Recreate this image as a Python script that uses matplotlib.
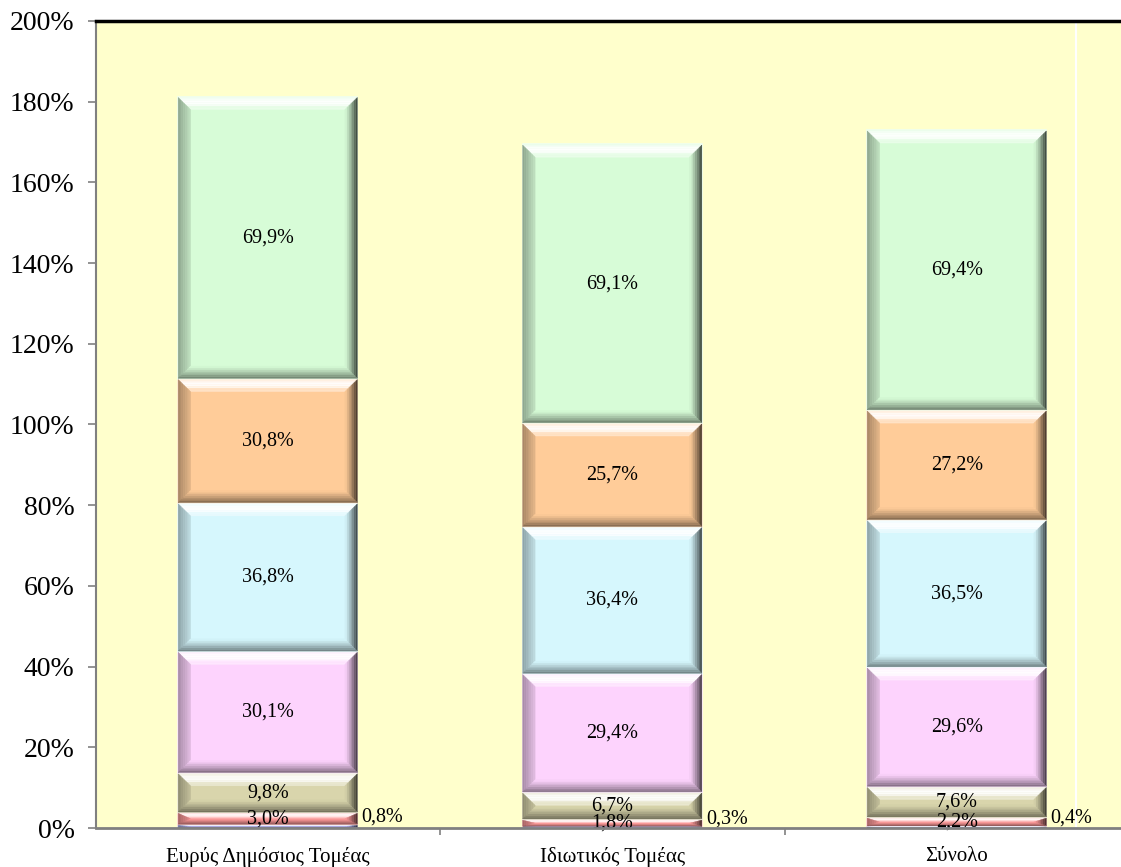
"""
Stacked percentage bars with bevelled segments.
"""

import matplotlib.pyplot as plt
import numpy as np
from matplotlib.patches import Polygon

categories = ["Ευρύς Δημόσιος Τομέας", "Ιδιωτικός Τομέας", "Σύνολο"]

# segments from bottom to top
seg_a = [0.8, 0.3, 0.4]
seg_b = [3.0, 1.8, 2.2]
seg_c = [9.8, 6.7, 7.6]
seg_d = [30.1, 29.4, 29.6]
seg_e = [36.8, 36.4, 36.5]
seg_f = [30.8, 25.7, 27.2]
seg_g = [69.9, 69.1, 69.4]

series = [seg_a, seg_b, seg_c, seg_d, seg_e, seg_f, seg_g]
colors = ["#a9a9e6", "#ff9b9b", "#d9d5ac", "#fdd3fd", "#d6f7fd", "#ffcc99", "#d7fcd7"]

y_ticks = np.arange(0, 201, 20)
y_tick_labels = [f"{v}%" for v in y_ticks]


def mix(c, other, t):
    c = np.array(plt.matplotlib.colors.to_rgb(c))
    other = np.array(plt.matplotlib.colors.to_rgb(other))
    return tuple(c * (1 - t) + other * t)


def bevel(ax, x0, x1, y0, y1, color, bx, by, n=7):
    by = min(by, (y1 - y0) / 2)
    sides = {
        "top": ("white", 0.95),
        "left": ("black", 0.35),
        "right": ("black", 0.75),
        "bottom": ("black", 0.5),
    }
    for k in range(n):
        t0, t1 = k / n, (k + 1) / n
        f = (k + 0.5) / n
        for side, (other, amount) in sides.items():
            if side == "top":
                amt = amount * (0.45 + 0.55 * np.sin(np.pi * min(f * 1.3, 1.0)) ** 0.5)
            elif side == "left":
                amt = amount * (0.3 + 0.7 * (1 - f))
            else:
                amt = amount * (1 - f) ** 1.2
            c = mix(color, other, amt)
            ox0, ox1 = x0 + bx * t0, x1 - bx * t0
            ix0, ix1 = x0 + bx * t1, x1 - bx * t1
            oy0, oy1 = y0 + by * t0, y1 - by * t0
            iy0, iy1 = y0 + by * t1, y1 - by * t1
            if side == "top":
                pts = [(ox0, oy1), (ox1, oy1), (ix1, iy1), (ix0, iy1)]
            elif side == "bottom":
                pts = [(ox0, oy0), (ox1, oy0), (ix1, iy0), (ix0, iy0)]
            elif side == "left":
                pts = [(ox0, oy0), (ix0, iy0), (ix0, iy1), (ox0, oy1)]
            else:
                pts = [(ox1, oy0), (ix1, iy0), (ix1, iy1), (ox1, oy1)]
            ax.add_patch(Polygon(pts, closed=True, facecolor=c, edgecolor=c,
                                 linewidth=0.3, zorder=3))


def fmt(v):
    return f"{v:.1f}%".replace(".", ",")


plt.rcParams["font.family"] = ["Liberation Serif", "DejaVu Serif"]

fig = plt.figure(figsize=(11.21, 8.67), dpi=100)
ax = fig.add_axes([95.5 / 1121, 39 / 867, 1033.5 / 1121, 807 / 867])
ax.set_facecolor("#ffffcc")

x = np.arange(len(categories))
width = 0.52
bx = 0.036
by = 3.0

bottom = np.zeros(len(categories))
for i, (vals, color) in enumerate(zip(series, colors)):
    vals = np.array(vals)
    ax.bar(x, vals, width, bottom=bottom, color=color,
           edgecolor=mix(color, "white", 0.6), linewidth=1.2, zorder=2)
    for j in range(len(categories)):
        x0, x1 = x[j] - width / 2, x[j] + width / 2
        y0, y1 = bottom[j], bottom[j] + vals[j]
        bevel(ax, x0, x1, y0 + 0.15, y1 - 0.15, color, bx, by)
        if i == 0:
            ax.text(x1 + 0.012, y1 + 2.0, fmt(vals[j]), ha="left",
                    va="center", fontsize=14.5, zorder=5)
        else:
            ax.text(x[j], (y0 + y1) / 2, fmt(vals[j]), ha="center",
                    va="center", fontsize=14.5, zorder=5)
    bottom += vals

ax.set_xlim(-0.5, 2.5)
ax.set_ylim(0, 200)
ax.set_yticks(y_ticks)
ax.set_yticklabels(y_tick_labels, fontsize=20)
ax.set_xticks(x)
ax.set_xticklabels(categories, fontsize=15)
ax.set_xticks([0.5, 1.5], minor=True)
ax.tick_params(axis="x", which="major", length=0, pad=14)
ax.tick_params(axis="x", which="minor", length=5, color="#808080", width=1.2)
ax.tick_params(axis="y", length=6, color="#808080", width=1.2, pad=9)

ax.axvline(2.345, color="white", linewidth=1.5, zorder=1)

ax.spines["right"].set_visible(False)
ax.spines["top"].set_color("black")
ax.spines["top"].set_linewidth(2.5)
ax.spines["left"].set_color("#808080")
ax.spines["left"].set_linewidth(1.5)
ax.spines["bottom"].set_color("#808080")
ax.spines["bottom"].set_linewidth(2)
ax.spines["bottom"].set_zorder(6)

fig.savefig("out.png", dpi=100)
